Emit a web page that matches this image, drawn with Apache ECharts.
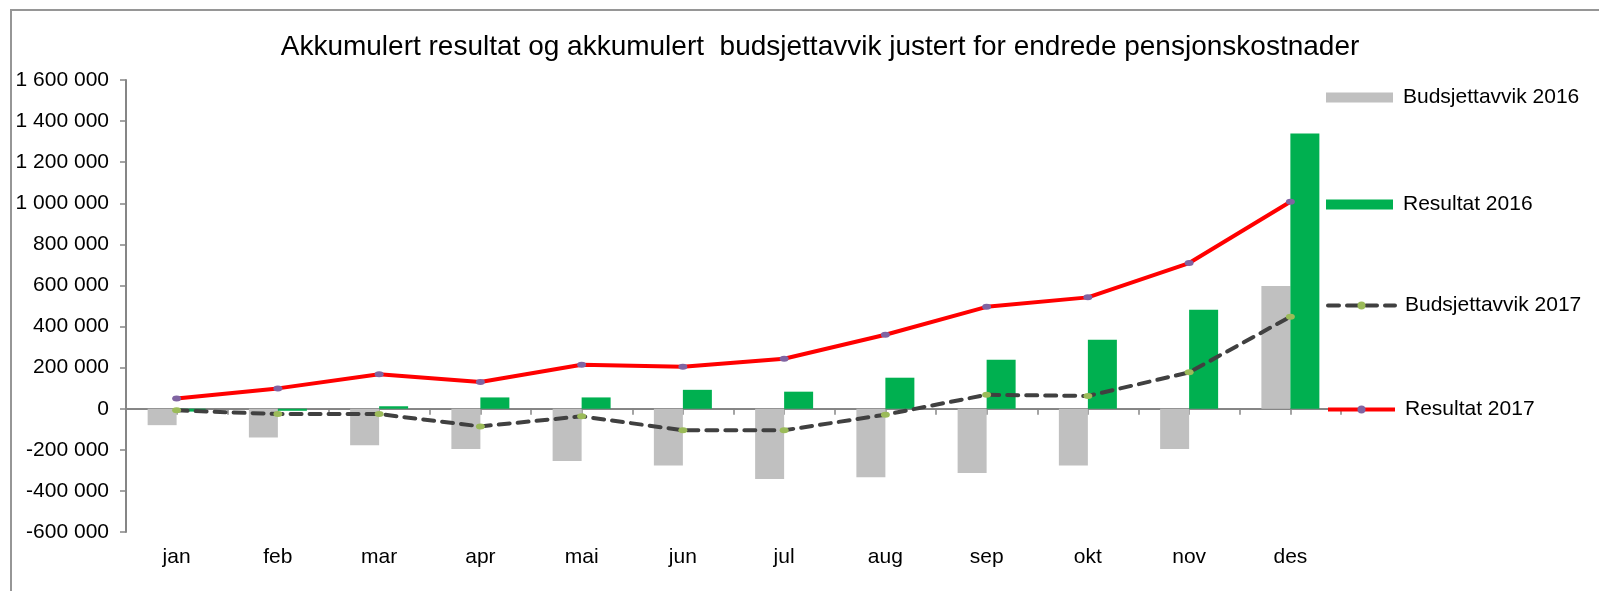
<!DOCTYPE html>
<html>
<head>
<meta charset="utf-8">
<script src="https://cdn.jsdelivr.net/npm/echarts@6/dist/echarts.min.js"></script>
<style>
  html, body { margin: 0; padding: 0; background: #fff; }
  #chart { width: 1599px; height: 591px; }
</style>
</head>
<body>
<div id="chart"></div>
<script>
const months = ['jan', 'feb', 'mar', 'apr', 'mai', 'jun', 'jul', 'aug', 'sep', 'okt', 'nov', 'des'];
const budsjettavvik2016 = [-80000, -140000, -178000, -196000, -255000, -276000, -342000, -333000, -313000, -276000, -196000, 597000];
const resultat2016 = [-14000, -10000, 12000, 55000, 55000, 92000, 83000, 151000, 238000, 336000, 482000, 1340000];
const budsjettavvik2017 = [-8000, -26000, -26000, -86000, -37000, -105000, -105000, -29000, 68000, 62000, 177000, 448000];
const resultat2017 = [50000, 99000, 168000, 130000, 214000, 204000, 243000, 360000, 496000, 542000, 709000, 1007000];

const FONT = '"Liberation Sans", Arial, sans-serif';
const axisGray = '#868686';

function fmt (v) {
    const s = String(Math.abs(v)).replace(/\B(?=(\d{3})+(?!\d))/g, ' ');
    return (v < 0 ? '-' : '') + s;
}

const chart = echarts.init(document.getElementById('chart'));

function legendAt (name, top, icon) {
    return {
        data: [{ name: name, icon: icon }],
        orient: 'vertical',
        left: 1321,
        top: top,
        itemWidth: 67,
        itemHeight: 10,
        itemGap: 0,
        selectedMode: false,
        lineStyle: { width: 4 },
        textStyle: { fontFamily: FONT, fontSize: 21, color: '#000', padding: [0, 0, 0, 5] }
    };
}

const option = {
    animation: false,
    backgroundColor: '#fff',
    textStyle: { fontFamily: FONT },
    title: {
        text: 'Akkumulert resultat og akkumulert  budsjettavvik justert for endrede pensjonskostnader',
        left: 815,
        textAlign: 'center',
        top: 28,
        textStyle: { fontFamily: FONT, fontSize: 28, fontWeight: 'normal', color: '#000' }
    },
    graphic: [{
        type: 'rect',
        shape: { x: 11, y: 10, width: 1620, height: 620 },
        style: { fill: 'none', stroke: '#969696', lineWidth: 2 },
        z: -1
    }],
    legend: [
        legendAt('Budsjettavvik 2016', 82, 'rect'),
        legendAt('Resultat 2016', 189, 'rect'),
        legendAt('Budsjettavvik 2017', 290),
        legendAt('Resultat 2017', 394)
    ],
    grid: { left: 126, right: 258, top: 80, bottom: 59 },
    xAxis: [
        {
            type: 'category',
            data: months,
            position: 'bottom',
            axisLine: { show: false, onZero: false },
            axisTick: { show: false },
            axisLabel: { margin: 15, fontFamily: FONT, fontSize: 21, color: '#000' }
        },
        {
            type: 'category',
            data: months,
            position: 'bottom',
            axisLine: { show: true, onZero: true, onZeroAxisIndex: 0, lineStyle: { color: axisGray, width: 2 } },
            axisTick: { show: true, length: 6, lineStyle: { color: axisGray, width: 1.5 } },
            axisLabel: { show: false }
        },
        {
            type: 'category',
            data: months,
            position: 'bottom',
            axisLine: { show: true, onZero: true, onZeroAxisIndex: 1, lineStyle: { color: axisGray, width: 2 } },
            axisTick: { show: true, alignWithLabel: true, length: 6, lineStyle: { color: axisGray, width: 1.5 } },
            axisLabel: { show: false }
        }
    ],
    yAxis: [
        {
            type: 'value',
            min: -600000,
            max: 1600000,
            interval: 200000,
            splitLine: { show: false },
            axisLine: { show: true, lineStyle: { color: axisGray, width: 2 } },
            axisTick: { show: true, length: 6, lineStyle: { color: axisGray, width: 1.5 } },
            axisLabel: { margin: 17, fontFamily: FONT, fontSize: 21, color: '#000', formatter: fmt }
        },
        {
            type: 'value',
            position: 'left',
            min: -600000,
            max: 1600000,
            interval: 200000,
            show: false,
            splitLine: { show: false }
        }
    ],
    series: [
        {
            name: 'Budsjettavvik 2016',
            type: 'bar',
            data: budsjettavvik2016,
            barWidth: 29,
            barGap: '0%',
            itemStyle: { color: '#C0C0C0' }
        },
        {
            name: 'Resultat 2016',
            type: 'bar',
            data: resultat2016,
            barWidth: 29,
            barGap: '0%',
            itemStyle: { color: '#00B050' }
        },
        {
            name: 'Budsjettavvik 2017',
            type: 'line',
            data: budsjettavvik2017,
            symbol: 'circle',
            symbolSize: [9, 6],
            showAllSymbol: true,
            lineStyle: { color: '#404040', width: 4, type: [11, 8], cap: 'round' },
            itemStyle: { color: '#9BBB59' },
            z: 5
        },
        {
            name: 'Resultat 2017',
            type: 'line',
            data: resultat2017,
            symbol: 'circle',
            symbolSize: [9, 6],
            showAllSymbol: true,
            lineStyle: { color: '#FF0000', width: 4 },
            itemStyle: { color: '#8064A2' },
            z: 5
        }
    ]
};

chart.setOption(option);
window.addEventListener('resize', function () {
    chart.resize();
});
</script>
</body>
</html>
